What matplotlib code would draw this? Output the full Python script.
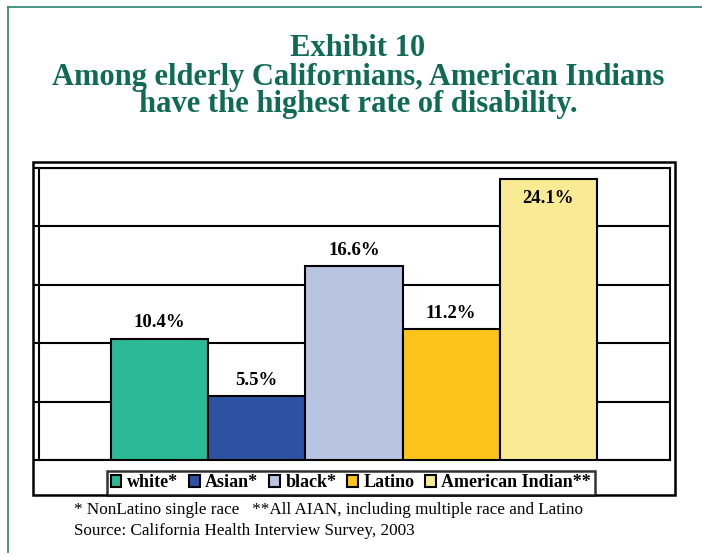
"""
    Exhibit 10: disability rate among elderly Californians
"""
import matplotlib.pyplot as plt
from matplotlib.patches import Rectangle
from matplotlib.lines import Line2D

groups = ['white*', 'Asian*', 'black*', 'Latino', 'American Indian**']
rates = [10.4, 5.5, 16.6, 11.2, 24.1]
colors = ['#2bb996', '#2e52a3', '#b8c4e2', '#fdc41a', '#f9eb94']
yticks = [0, 5, 10, 15, 20, 25]

teal = '#0f6b56'
W, H = 702, 555

fig = plt.figure(figsize=(W / 100, H / 100), dpi=100, facecolor='white')

# teal frame of the page (top and left)
fig.add_artist(Line2D([8 / W, 1], [1 - 7 / H, 1 - 7 / H], color='#2a8270', lw=1.2))
fig.add_artist(Line2D([8 / W, 8 / W], [1 - 7 / H, 1 - 552 / H], color='#2a8270', lw=1.2))

# title, one line at a time
title_lines = ['Exhibit 10',
               'Among elderly Californians, American Indians',
               'have the highest rate of disability.']
for line, base in zip(title_lines, [56, 85, 112]):
    fig.text(358 / W, 1 - base / H, line, ha='center', va='baseline', color=teal,
             fontsize=22, fontweight='bold', family='Liberation Serif')

# outer chart box
fig.add_artist(Rectangle((33 / W, 1 - 495 / H), 642 / W, 333 / H,
                         fill=False, ec='black', lw=1.8, transform=fig.transFigure))

ax = fig.add_axes([39 / W, 1 - 460 / H, 631 / W, 292 / H])
x = list(range(len(groups)))
ax.bar(x, rates, width=1.0, color=colors, edgecolor='black', linewidth=1.5,
       zorder=3)
for xi, r in zip(x, rates):
    if r > 22:
        # no room above the tallest bar: label goes inside
        off = -17.5
    else:
        off = 8
    ax.annotate(f'{r:.1f}%', (xi, r), xytext=(0, off), textcoords='offset points',
                ha='center', va='baseline', fontsize=13.5, fontweight='bold',
                family='Liberation Serif', zorder=4)

ax.set_xlim(-1.24, 5.25)
ax.set_ylim(0, 25)
ax.set_yticks(yticks)
ax.set_yticklabels([])
ax.set_xticks([])
ax.tick_params(axis='y', direction='out', length=4.3, width=1.5)
ax.grid(axis='y', color='black', lw=1.5, zorder=0)
for s in ax.spines.values():
    s.set_linewidth(1.5)

handles = [Rectangle((0, 0), 1, 1, fc=c, ec='black', lw=1.5) for c in colors]
leg = fig.legend(handles, groups, loc='lower left',
                 bbox_to_anchor=(107 / W, 1 - 495 / H), ncol=5,
                 prop={'family': 'Liberation Serif', 'weight': 'bold', 'size': 13},
                 frameon=True, fancybox=False, handlelength=0.6, handleheight=0.6,
                 handletextpad=0.3, columnspacing=0.6, borderpad=0.2,
                 borderaxespad=0)
leg.get_frame().set_edgecolor('black')
leg.get_frame().set_linewidth(1.8)

# footnotes
fig.text(74 / W, 1 - 510 / H,
         '* NonLatino single race   **All AIAN, including multiple race and Latino',
         ha='left', va='center', fontsize=12.3, family='Liberation Serif')
fig.text(74 / W, 1 - 531 / H, 'Source: California Health Interview Survey, 2003',
         ha='left', va='center', fontsize=12.3, family='Liberation Serif')

plt.savefig('out.png', dpi=100)
